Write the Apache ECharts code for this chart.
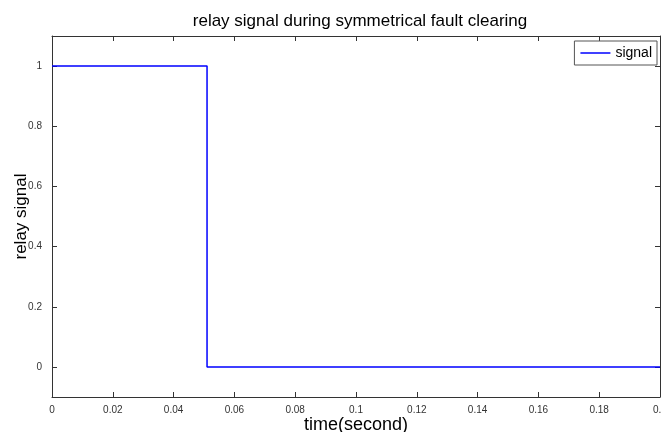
<!DOCTYPE html>
<html>
<head>
<meta charset="utf-8">
<script src="https://cdn.jsdelivr.net/npm/echarts@6/dist/echarts.min.js"></script>
<style>
  html, body { margin: 0; padding: 0; background: #fff; }
  #relaySignal { width: 661px; height: 432px; }
</style>
</head>
<body>
<div id="relaySignal"></div>
<script>
// step: relay opens at about 0.051 s
var timeValues = [0, 0.051, 0.051, 0.2];
var signalValues = [1, 1, 0, 0];
var xTicks = [0, 0.02, 0.04, 0.06, 0.08, 0.1, 0.12, 0.14, 0.16, 0.18, 0.2];
var yTicks = [0, 0.2, 0.4, 0.6, 0.8, 1];

var axisColor = '#333';
var font = 'Liberation Sans, Arial, sans-serif';

var points = timeValues.map(function (t, i) { return [t, signalValues[i]]; });

var option = {
    backgroundColor: '#fff',
    animation: false,
    title: {
        text: 'relay signal during symmetrical fault clearing',
        left: 355,
        top: 8,
        textAlign: 'center',
        textStyle: { fontFamily: font, fontSize: 17, fontWeight: 'normal', color: '#000' }
    },
    legend: {
        data: ['signal'],
        right: 4,
        top: 41,
        padding: [5, 5, 5, 6],
        itemWidth: 30,
        itemHeight: 10,
        itemGap: 4,
        borderColor: '#555',
        borderWidth: 1,
        backgroundColor: '#fff',
        icon: 'path://M0,0 L30,0 L30,1.5 L0,1.5 Z',
        textStyle: { fontFamily: font, fontSize: 14, color: '#000', padding: [0, 0, 0, 0] }
    },
    grid: { left: 52, right: 1, top: 36, bottom: 35, outerBoundsMode: 'none', containLabel: false },
    xAxis: [
        {
            type: 'value',
            min: 0, max: 0.2, interval: 0.02,
            name: 'time(second)',
            nameLocation: 'middle',
            nameGap: 19,
            nameMoveOverlap: false,
            nameTextStyle: { fontFamily: font, fontSize: 18, color: '#000' },
            axisLine: { show: true, onZero: false, lineStyle: { color: axisColor, width: 1 } },
            axisTick: { show: true, inside: true, length: 5, lineStyle: { color: axisColor } },
            axisLabel: {
                fontFamily: font, fontSize: 10, color: '#333', margin: 8,
                showMaxLabel: true,
                formatter: function (v) { return String(+v.toFixed(2)); }
            },
            splitLine: { show: false }
        },
        {
            type: 'value', position: 'top',
            min: 0, max: 0.2, interval: 0.02,
            axisLine: { show: true, onZero: false, lineStyle: { color: axisColor, width: 1 } },
            axisTick: { show: true, inside: true, length: 5, lineStyle: { color: axisColor } },
            axisLabel: { show: false },
            splitLine: { show: false }
        }
    ],
    yAxis: [
        {
            type: 'value',
            min: -0.1, max: 1.1,
            interval: 0.2,
            name: 'relay signal',
            nameLocation: 'middle',
            nameGap: 22,
            nameMoveOverlap: false,
            nameTextStyle: { fontFamily: font, fontSize: 17, color: '#000' },
            axisLine: { show: true, onZero: false, lineStyle: { color: axisColor, width: 1 } },
            axisTick: { show: true, inside: true, length: 5, lineStyle: { color: axisColor },
                customValues: yTicks },
            axisLabel: {
                fontFamily: font, fontSize: 10, color: '#333', margin: 10,
                customValues: yTicks,
                formatter: function (v) { return String(+v.toFixed(1)); }
            },
            splitLine: { show: false }
        },
        {
            type: 'value', position: 'right',
            min: -0.1, max: 1.1,
            axisLine: { show: true, onZero: false, lineStyle: { color: axisColor, width: 1 } },
            axisTick: { show: true, inside: true, length: 5, lineStyle: { color: axisColor },
                customValues: yTicks },
            axisLabel: { show: false },
            splitLine: { show: false }
        }
    ],
    series: [
        {
            name: 'signal',
            type: 'line',
            data: points,
            showSymbol: false,
            symbol: 'none',
            color: '#0000ff',
            lineStyle: { color: '#0000ff', width: 1.5 }
        }
    ]
};

echarts.init(document.getElementById('relaySignal')).setOption(option);
</script>
</body>
</html>
